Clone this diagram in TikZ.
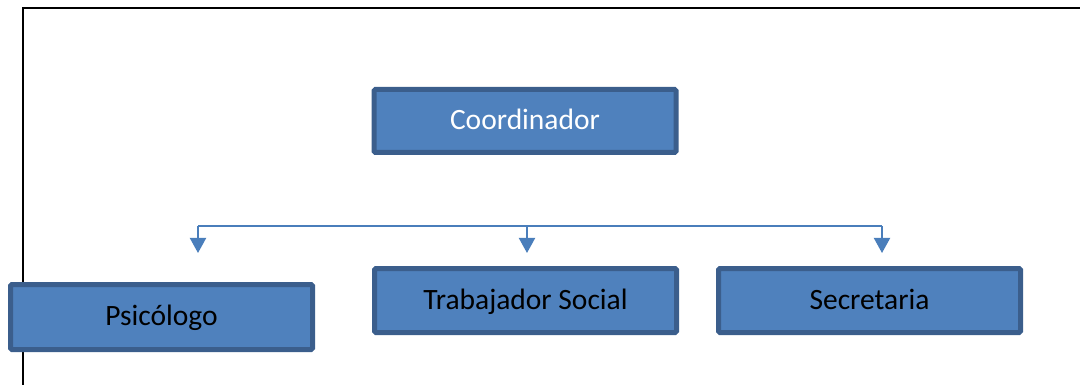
\documentclass[tikz,border=0pt]{standalone}
\usepackage{fontspec}
\setmainfont{Carlito}
\usetikzlibrary{arrows.meta}
\definecolor{boxfill}{HTML}{4F81BD}
\definecolor{boxline}{HTML}{3B5E8C}
\definecolor{linkblue}{HTML}{4A7EBB}
\begin{document}
\begin{tikzpicture}[x=1pt,y=-1pt,
  orgbox/.style={draw=boxline,fill=boxfill,line width=5pt,rounded corners=1.5pt,
    minimum width=302pt,minimum height=64pt,inner sep=0pt,
    font=\fontsize{29.5}{34}\selectfont,text height=17.5pt,text depth=0pt},
  link/.style={draw=linkblue,line width=2pt},
  linkarrow/.style={link,-{Triangle[width=16pt,length=15pt]}}]
\useasboundingbox (0,0) rectangle (1080,385);
% frame
\draw[line width=2pt,line cap=rect] (23,385) -- (23,8.5) -- (1080,8.5);
% boxes
\node[orgbox,text=white,minimum height=63pt] (coord) at (525,121) {Coordinador};
\node[orgbox,text=black,minimum height=65pt] (psi) at (161.5,317) {Psicólogo};
\node[orgbox,text=black] (trab) at (525.5,300.5) {Trabajador Social};
\node[orgbox,text=black] (sec) at (869.5,300.5) {Secretaria};
% connectors
\coordinate (b1) at (198,226);
\coordinate (b2) at (527,226);
\coordinate (b3) at (882,226);
\coordinate (t1) at (198,253);
\coordinate (t2) at (527,253);
\coordinate (t3) at (882,253);
\draw[link] (b1) -- (b3);
\draw[linkarrow] (b1) -- (t1);
\draw[linkarrow] (b2) -- (t2);
\draw[linkarrow] (b3) -- (t3);
\end{tikzpicture}
\end{document}
